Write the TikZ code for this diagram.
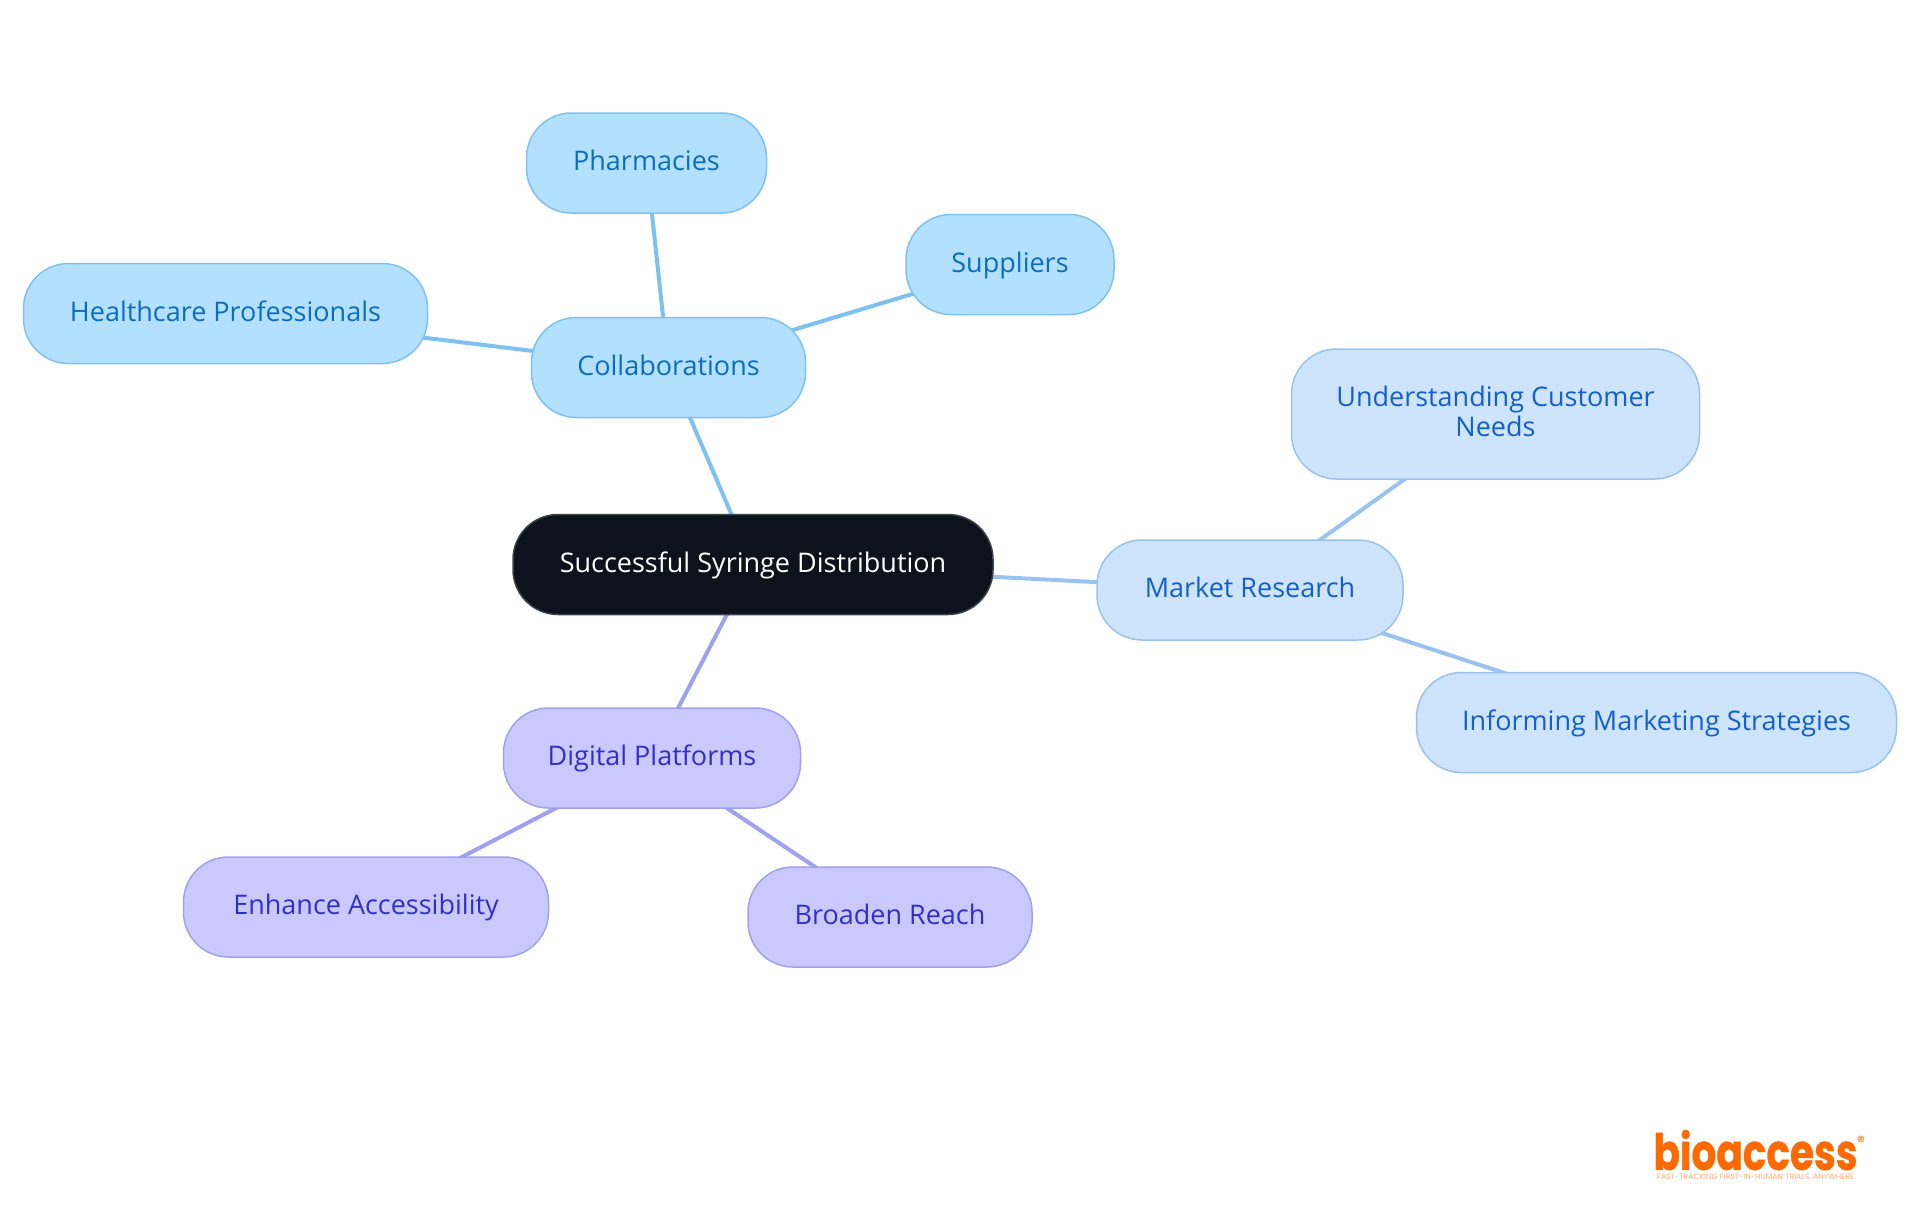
\documentclass[tikz,border=0pt]{standalone}
\usepackage{fontspec}
\setmainfont{Open Sans}
\newfontfamily\logofont{Poppins}[BoldFeatures={FakeBold=0.8}]
\usetikzlibrary{backgrounds}
\definecolor{rootfill}{HTML}{0C131C}
\definecolor{rootline}{HTML}{3C4249}
\definecolor{skyfill}{HTML}{B3E0FF}
\definecolor{skyline}{HTML}{7DC1F0}
\definecolor{skytext}{HTML}{0A6EBD}
\definecolor{palefill}{HTML}{CEE4FC}
\definecolor{paleline}{HTML}{99C2F0}
\definecolor{paletext}{HTML}{1460C8}
\definecolor{violetfill}{HTML}{C9C9FF}
\definecolor{violetline}{HTML}{A0A0F0}
\definecolor{violettext}{HTML}{3030C8}
\definecolor{logoorange}{HTML}{FF6A00}
\tikzset{
  topic/.style={draw,line width=0.75pt,rounded corners=22.5pt,minimum height=50pt,align=center,font=\fontsize{13.5pt}{14.7pt}\selectfont},
  oneline/.style={text height=10.4pt,text depth=2.6pt},
  roottopic/.style={topic,oneline,fill=rootfill,draw=rootline,text=white},
  skytopic/.style={topic,oneline,fill=skyfill,draw=skyline,text=skytext},
  paletopic/.style={topic,fill=palefill,draw=paleline,text=paletext},
  violettopic/.style={topic,oneline,fill=violetfill,draw=violetline,text=violettext},
  skylink/.style={draw=skyline,line width=2pt},
  palelink/.style={draw=paleline,line width=2pt},
  violetlink/.style={draw=violetline,line width=2pt}
}
\begin{document}
\begin{tikzpicture}[x=0.5pt,y=-0.5pt]
    \useasboundingbox (0,0) rectangle (1920,1215);

    % Centre of the map
    \node[roottopic,minimum width=240pt] (root) at (753,564.5) {Successful Syringe Distribution};

    % Collaborations branch
    \node[skytopic,minimum width=137pt] (collab) at (668.5,367.5) {Collaborations};
    \node[skytopic,minimum width=120pt] (pharm) at (646.5,163) {Pharmacies};
    \node[skytopic,minimum width=104pt] (suppl) at (1010,264.5) {Suppliers};
    \node[skytopic,minimum width=202pt] (health) at (225.5,313.5) {Healthcare Professionals};

    % Market research branch
    \node[paletopic,oneline,minimum width=153pt] (market) at (1250,590) {Market Research};
    \node[paletopic,text depth=2.6pt,minimum width=204pt,minimum height=65pt] (needs) at (1495.5,414) {Understanding Customer\\Needs};
    \node[paletopic,oneline,minimum width=240pt] (inform) at (1656.5,722.5) {Informing Marketing Strategies};

    % Digital platforms branch
    \node[violettopic,minimum width=148.5pt] (digital) at (652,758) {Digital Platforms};
    \node[violettopic,minimum width=182.5pt] (access) at (366,907) {Enhance Accessibility};
    \node[violettopic,minimum width=142pt] (reach) at (890,917) {Broaden Reach};

    % Links run from centre to centre, behind the nodes
    \begin{scope}[on background layer]
        \draw[skylink] (root.center) -- (collab.center);
        \draw[skylink] (collab.center) -- (pharm.center);
        \draw[skylink] (collab.center) -- (suppl.center);
        \draw[skylink] (collab.center) -- (health.center);
        \draw[palelink] (root.center) -- (market.center);
        \draw[palelink] (market.center) -- (needs.center);
        \draw[palelink] (market.center) -- (inform.center);
        \draw[violetlink] (root.center) -- (digital.center);
        \draw[violetlink] (digital.center) -- (access.center);
        \draw[violetlink] (digital.center) -- (reach.center);
    \end{scope}

    % Logo
    \node[inner sep=0pt,text=logoorange,font=\logofont\bfseries\fontsize{25pt}{25pt}\selectfont] (logo) at (1755.5,1150) {\scalebox{0.78}[1]{bioaccess}};
    \node[inner sep=0pt,text=logoorange,font=\logofont\fontsize{8pt}{8pt}\selectfont] (regmark) at (1861,1142) {®};
    \node[inner sep=0pt,text=logoorange!55,font=\logofont\fontsize{3.9pt}{4pt}\selectfont] (tagline) at (1755.5,1177) {FAST-TRACKING FIRST-IN-HUMAN TRIALS, ANYWHERE};
\end{tikzpicture}
\end{document}
